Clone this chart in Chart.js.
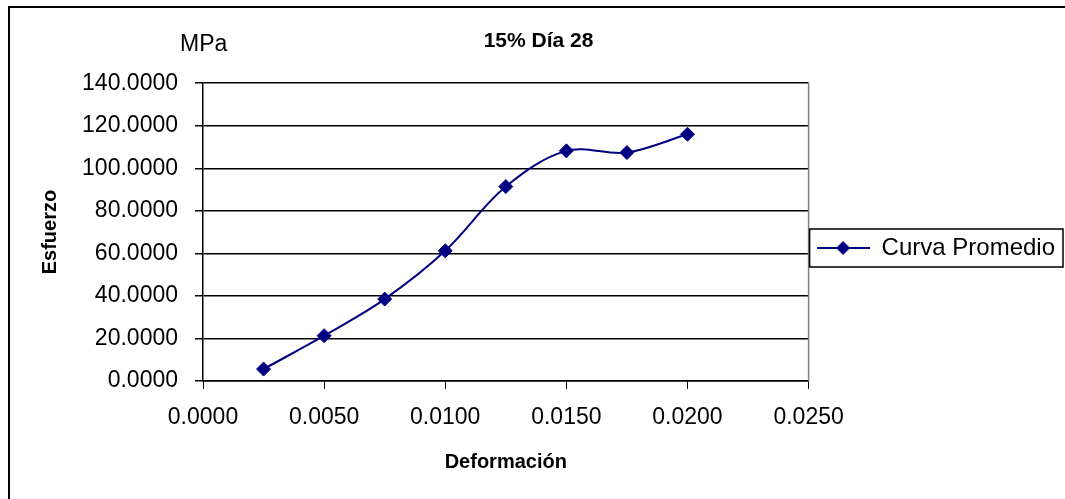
<!DOCTYPE html>
<html>
<head>
<meta charset="utf-8">
<script src="https://cdn.jsdelivr.net/npm/chart.js@4.4.1/dist/chart.umd.min.js"></script>
<style>
    body { margin: 0; background: #fff; }
    canvas { display: block; }
</style>
</head>
<body>
<canvas id="stress-chart" width="1065" height="499"></canvas>
<script>
const strain = [0.0025, 0.0050, 0.0075, 0.0100, 0.0125, 0.0150, 0.0175, 0.0200];
const stress = [5.6, 21.3, 38.5, 61.2, 91.4, 108.2, 107.4, 116.0];
const seriesName = 'Curva Promedio';
const chartTitle = '15% Día 28';
const xTitle = 'Deformación';
const yTitle = 'Esfuerzo';
const unitLabel = 'MPa';

Chart.defaults.font.family = '"Liberation Sans", Arial, sans-serif';
Chart.defaults.color = '#000';

// legend marker: line with a diamond in the middle, like Excel
const legendIcon = document.createElement('canvas');
legendIcon.width = 53;
legendIcon.height = 16;
const ic = legendIcon.getContext('2d');
ic.strokeStyle = '#000080';
ic.lineWidth = 2;
ic.beginPath();
ic.moveTo(0, 8);
ic.lineTo(53, 8);
ic.stroke();
ic.fillStyle = '#000080';
ic.beginPath();
ic.moveTo(26.5, 1);
ic.lineTo(33.5, 8);
ic.lineTo(26.5, 15);
ic.lineTo(19.5, 8);
ic.closePath();
ic.fill();

// frame, plot border, legend box and the unit label
const decorations = {
    id: 'decorations',
    beforeDatasetsDraw(chart) {
        const ctx = chart.ctx;
        const a = chart.chartArea;
        ctx.save();
        ctx.strokeStyle = '#808080';
        ctx.lineWidth = 1.5;
        ctx.beginPath();
        ctx.moveTo(a.right, a.top);
        ctx.lineTo(a.right, a.bottom);
        ctx.stroke();
        ctx.restore();
    },
    afterDraw(chart) {
        const ctx = chart.ctx;
        ctx.save();
        ctx.strokeStyle = '#000';
        ctx.lineWidth = 2;
        ctx.strokeRect(9, 7, chart.width + 10, chart.height + 10);

        const hit = chart.legend.legendHitBoxes[0];
        if (hit) {
            const cy = hit.top + hit.height / 2;
            ctx.lineWidth = 1.5;
            ctx.strokeRect(chart.chartArea.right + 1, cy - 19, chart.width - chart.chartArea.right - 3, 38);
        }

        ctx.fillStyle = '#000';
        ctx.font = '23px "Liberation Sans", Arial, sans-serif';
        ctx.textBaseline = 'middle';
        ctx.fillText(unitLabel, 180, 45);
        ctx.restore();
    }
};

const stressData = {
    datasets: [{
        label: seriesName,
        data: strain.map((x, i) => ({ x: x, y: stress[i] })),
        borderColor: '#000080',
        backgroundColor: '#000080',
        borderWidth: 2,
        tension: 0.35,
        pointStyle: 'rectRot',
        pointRadius: 7,
        pointBorderWidth: 1,
        fill: false
    }]
};

const stressOptions = {
    responsive: false,
    animation: false,
    layout: {
        padding: { left: 12, top: 0, right: 0, bottom: 25 }
    },
    scales: {
        x: {
            type: 'linear',
            min: 0,
            max: 0.025,
            afterFit: (scale) => { scale.height = 93; },
            ticks: {
                stepSize: 0.005,
                padding: 15,
                font: { size: 23 },
                callback: (v) => v.toFixed(4)
            },
            grid: {
                drawOnChartArea: false,
                drawTicks: true,
                tickLength: 8,
                color: '#000'
            },
            border: { color: '#000', width: 1.5 },
            title: {
                display: true,
                text: xTitle,
                font: { size: 20, weight: 'bold' },
                padding: 0
            }
        },
        y: {
            min: 0,
            max: 140,
            afterFit: (scale) => { scale.width = 191; },
            ticks: {
                stepSize: 20,
                padding: 17,
                font: { size: 23 },
                callback: (v) => v.toFixed(4)
            },
            grid: {
                color: '#000',
                lineWidth: 1.5,
                tickLength: 8
            },
            border: { color: '#000', width: 1.5 },
            title: {
                display: true,
                text: yTitle,
                font: { size: 20, weight: 'bold' },
                padding: { top: 26, bottom: 0 }
            }
        }
    },
    plugins: {
        title: {
            display: true,
            text: chartTitle,
            font: { size: 21, weight: 'bold' },
            padding: { top: 29, bottom: 29 }
        },
        legend: {
            position: 'right',
            title: {
                display: true,
                text: ' ',
                padding: 0,
                font: { size: 18, lineHeight: '22px' }
            },
            labels: {
                usePointStyle: true,
                pointStyle: legendIcon,
                pointStyleWidth: 53,
                padding: 8,
                font: { size: 24 }
            }
        },
        tooltip: { enabled: false }
    }
};

const stressCanvas = document.getElementById('stress-chart');
let stressChart = new Chart(stressCanvas, {
    type: 'line',
    data: stressData,
    options: stressOptions,
    plugins: [decorations]
});
</script>
</body>
</html>
